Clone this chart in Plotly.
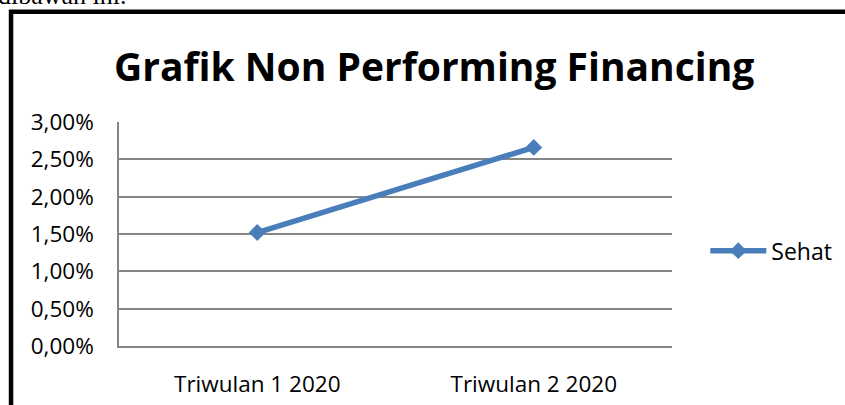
import plotly.graph_objects as go

categories = ["Triwulan 1 2020", "Triwulan 2 2020"]
sehat_values = [1.52, 2.66]
series_name = "Sehat"
y_tick_values = [0, 0.5, 1.0, 1.5, 2.0, 2.5, 3.0]
y_tick_labels = ["0,00%", "0,50%", "1,00%", "1,50%", "2,00%", "2,50%", "3,00%"]
title_text = "Grafik Non Performing Financing"
page_text = "dibawah ini."

FONT = "Open Sans"
BLUE = "#4A7EBB"
GRID = "#868686"

fig = go.Figure()
fig.add_trace(go.Scatter(
    x=categories, y=sehat_values, name=series_name, mode="lines+markers",
    line=dict(color=BLUE, width=5.5),
    marker=dict(symbol="diamond", size=13, color=BLUE),
))

L, R, T, B = 118.5, 845 - 671.7, 122, 405 - 346.5
PW, PH = 845 - L - R, 405 - T - B

def px(x):
    return (x - L) / PW

def py(y):
    return (405 - B - y) / PH

fig.update_layout(
    width=845, height=405,
    margin=dict(l=L, r=R, t=T, b=B, pad=0, autoexpand=False),
    paper_bgcolor="white", plot_bgcolor="white",
    font=dict(family=FONT, size=20, color="black"),
    showlegend=True,
    legend=dict(x=px(705), y=py(251), xanchor="left", yanchor="middle",
                font=dict(family=FONT, size=23, color="black"),
                itemwidth=56, bgcolor="rgba(0,0,0,0)"),
    xaxis=dict(type="category", showgrid=False, showline=True, linecolor=GRID,
               linewidth=1.5, ticks="", ticklabelstandoff=17, automargin=False,
               range=[-0.5, 1.5], tickfont=dict(family=FONT, size=22.5)),
    yaxis=dict(range=[0, 3], tickvals=y_tick_values, ticktext=y_tick_labels,
               showgrid=True, gridcolor=GRID, gridwidth=1.5, automargin=False,
               showline=True, linecolor=GRID, linewidth=1.5, ticks="",
               ticklabelstandoff=19, zeroline=False,
               tickfont=dict(family=FONT, size=22.5)),
    annotations=[
        dict(text="<b>" + title_text + "</b>", x=px(433.5), y=py(65),
             xref="paper", yref="paper", xanchor="center", yanchor="middle",
             showarrow=False, font=dict(family=FONT, size=39, color="black")),
        dict(text=page_text, x=px(129), y=py(-5), xref="paper", yref="paper",
             xanchor="right", yanchor="middle", showarrow=False,
             font=dict(family="Liberation Serif", size=26, color="black")),
    ],
    shapes=[
        dict(type="rect", xref="paper", yref="paper",
             x0=px(10.5), y0=py(11.5), x1=px(900), y1=py(460),
             line=dict(color="black", width=4.5), fillcolor="rgba(0,0,0,0)"),
    ],
)

fig.write_html("out.html", config={"displayModeBar": False},
               post_script="document.body.style.margin='0';")
